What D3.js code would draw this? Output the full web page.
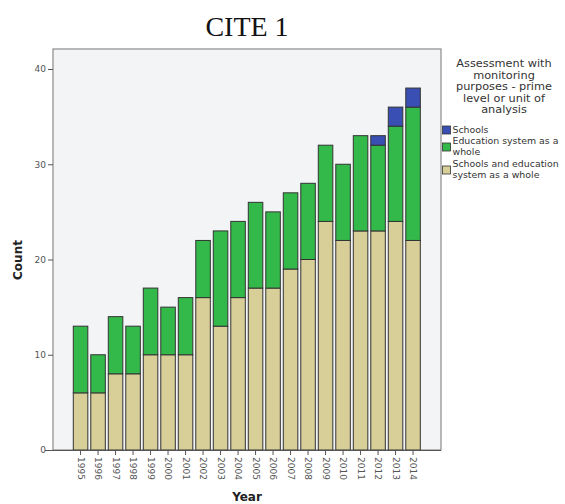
<!DOCTYPE html>
<html>
<head>
<meta charset="utf-8">
<script src="https://cdn.jsdelivr.net/npm/d3@7"></script>
<style>
  body { margin: 0; background: #fff; }
  svg { display: block; }
  .tick text { font-family: "DejaVu Sans", sans-serif; }
</style>
</head>
<body>
<svg width="565" height="504"></svg>
<script>
const years = ["1995","1996","1997","1998","1999","2000","2001","2002","2003","2004",
               "2005","2006","2007","2008","2009","2010","2011","2012","2013","2014"]
const bothLevels = [6,6,8,8,10,10,10,16,13,16,17,17,19,20,24,22,23,23,24,22]
const systemWhole = [7,4,6,5,7,5,6,6,10,8,9,8,8,8,8,8,10,9,10,14]
const schoolsOnly = [0,0,0,0,0,0,0,0,0,0,0,0,0,0,0,0,0,1,2,2]
const yTicks = [0,10,20,30,40]

const seriesKeys = ["both","system","schools"]
const seriesColors = {both:"#d8cf98", system:"#33b94a", schools:"#3a4fb3"}

const rows = years.map((y,i)=>{
    return {year:y, both:bothLevels[i], system:systemWhole[i], schools:schoolsOnly[i]}
})

const svg = d3.select("svg")

const plotLeft = 53, plotRight = 441, plotTop = 49

const x = d3.scaleBand()
    .domain(years)
    .range([71.8,421.8])
    .paddingInner(0.17)
    .paddingOuter(0.085)

const y = d3.scaleLinear()
    .domain([0,40])
    .range([450,69])

// plot background
svg.append("rect")
    .attr("x",plotLeft)
    .attr("y",plotTop)
    .attr("width",plotRight-plotLeft)
    .attr("height",y(0)-plotTop)
    .attr("fill","#f3f4f6")
    .attr("stroke","#8a8a8a")
    .attr("stroke-width",1.2)

const stack = d3.stack().keys(seriesKeys)
const layers = stack(rows)

svg.append("g")
    .selectAll("g.layer")
    .data(layers)
    .enter()
    .append("g")
    .attr("class","layer")
    .attr("fill",d=>seriesColors[d.key])
    .selectAll("rect")
    .data(d=>d.filter(p=>p[1]-p[0]>0))
    .enter()
    .append("rect")
    .attr("x",d=>x(d.data.year))
    .attr("y",d=>y(d[1]))
    .attr("width",x.bandwidth())
    .attr("height",d=>y(d[0])-y(d[1]))
    .attr("stroke","#333")
    .attr("stroke-width",1)

// y axis
const yAxis = svg.append("g")
    .attr("transform",`translate(${plotLeft},0)`)
    .call(d3.axisLeft(y).tickValues(yTicks).tickSize(5).tickPadding(2))
yAxis.select(".domain").remove()
yAxis.selectAll(".tick line").attr("stroke","#555")
yAxis.selectAll(".tick text").attr("font-size",9).attr("fill","#555")

// x axis
const xAxis = svg.append("g")
    .attr("transform",`translate(0,${y(0)})`)
    .call(d3.axisBottom(x).tickSize(5).tickSizeOuter(0))
xAxis.select(".domain").attr("d",`M${plotLeft-8},0.5H${plotRight}`).attr("stroke","#555")
xAxis.selectAll(".tick line").attr("stroke","#555")
xAxis.selectAll(".tick text")
    .attr("font-size",9)
    .attr("fill","#555")
    .attr("transform","rotate(90)")
    .attr("x",7)
    .attr("y",0)
    .attr("dy","0.33em")
    .attr("text-anchor","start")

// axis titles
svg.append("text")
    .attr("transform",`translate(22,260) rotate(-90)`)
    .attr("text-anchor","middle")
    .attr("font-family","DejaVu Sans, sans-serif")
    .attr("font-weight","bold")
    .attr("font-size",12)
    .attr("fill","#222")
    .text("Count")

svg.append("text")
    .attr("x",(plotLeft+plotRight)/2)
    .attr("y",501)
    .attr("text-anchor","middle")
    .attr("font-family","DejaVu Sans, sans-serif")
    .attr("font-weight","bold")
    .attr("font-size",12)
    .attr("fill","#222")
    .text("Year")

// chart title
svg.append("text")
    .attr("x",247)
    .attr("y",36)
    .attr("text-anchor","middle")
    .attr("font-family","Liberation Serif, serif")
    .attr("font-size",28)
    .attr("fill","#111")
    .text("CITE 1")

// legend
const legendTitle = ["Assessment with","monitoring","purposes - prime","level or unit of","analysis"]
svg.append("g")
    .selectAll("text")
    .data(legendTitle)
    .enter()
    .append("text")
    .attr("x",504)
    .attr("y",(d,i)=>67+i*11.5)
    .attr("text-anchor","middle")
    .attr("font-family","DejaVu Sans, sans-serif")
    .attr("font-size",11.3)
    .attr("fill","#333")
    .text(d=>d)

const legendItems = [
    {key:"schools", lines:["Schools"], top:126, base:133},
    {key:"system", lines:["Education system as a","whole"], top:143, base:144},
    {key:"both", lines:["Schools and education","system as a whole"], top:166, base:167}
]

const item = svg.append("g")
    .selectAll("g.item")
    .data(legendItems)
    .enter()
    .append("g")
    .attr("class","item")

item.append("rect")
    .attr("x",442.5)
    .attr("y",d=>d.top)
    .attr("width",8)
    .attr("height",8)
    .attr("fill",d=>seriesColors[d.key])
    .attr("stroke","#333")
    .attr("stroke-width",0.8)

item.each(function(d){
    d3.select(this)
        .selectAll("text")
        .data(d.lines)
        .enter()
        .append("text")
        .attr("x",452.5)
        .attr("y",(t,i)=>d.base+i*10.5)
        .attr("font-family","DejaVu Sans, sans-serif")
        .attr("font-size",9.4)
        .attr("fill","#333")
        .text(t=>t)
})
</script>
</body>
</html>
